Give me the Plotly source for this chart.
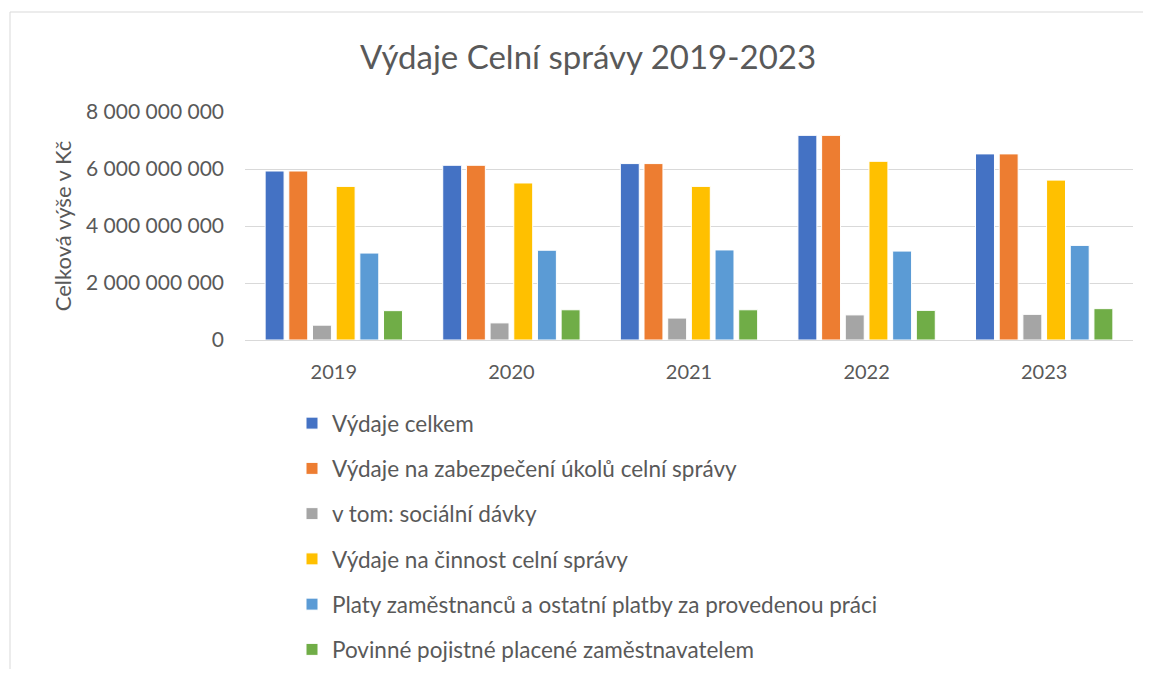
import plotly.graph_objects as go

years = ["2019", "2020", "2021", "2022", "2023"]

vydaje_celkem = [5.93e9, 6.13e9, 6.19e9, 7.18e9, 6.53e9]
vydaje_zabezpeceni = [5.93e9, 6.13e9, 6.19e9, 7.18e9, 6.53e9]
socialni_davky = [0.52e9, 0.60e9, 0.77e9, 0.88e9, 0.90e9]
vydaje_cinnost = [5.39e9, 5.51e9, 5.39e9, 6.27e9, 5.61e9]
platy = [3.05e9, 3.15e9, 3.16e9, 3.12e9, 3.32e9]
pojistne = [1.03e9, 1.06e9, 1.06e9, 1.04e9, 1.10e9]

series = [
    ("Výdaje celkem", vydaje_celkem, "#4472C4"),
    ("Výdaje na zabezpečení úkolů celní správy", vydaje_zabezpeceni, "#ED7D31"),
    ("v tom: sociální dávky", socialni_davky, "#A5A5A5"),
    ("Výdaje na činnost celní správy", vydaje_cinnost, "#FFC000"),
    ("Platy zaměstnanců a ostatní platby za provedenou práci", platy, "#5B9BD5"),
    ("Povinné pojistné placené zaměstnavatelem", pojistne, "#70AD47"),
]

font_family = "Lato, 'Open Sans', sans-serif"

fig = go.Figure()
for i, (name, vals, color) in enumerate(series):
    fig.add_trace(go.Bar(
        x=years, y=vals, name=name,
        marker=dict(color=color, line=dict(color="white", width=1)),
        legendgroup=f"g{i}",
    ))

# page body has an 8px margin; figure coordinates = screen - 8
W, H = 1143, 661
L, T = 237, 104
pw, ph = 888, 228
R = W - L - pw
B = H - T - ph
bottom_y = T + ph  # figure y of x-axis

fig.update_layout(
    width=W, height=H,
    margin=dict(l=L, r=R, t=T, b=B, autoexpand=False),
    paper_bgcolor="white", plot_bgcolor="white",
    separators=", ",
    font=dict(family=font_family, color="#595959", size=20),
    title=dict(text="Výdaje Celní správy 2019-2023", x=580 / W, xanchor="center",
               y=1 - 49 / H, yanchor="middle",
               font=dict(size=33, color="#595959", family=font_family)),
    barmode="group", bargap=0.2, bargroupgap=0.2,
    showlegend=True,
    legend=dict(orientation="v", x=(284 - L) / pw, xanchor="left",
                y=(bottom_y - 394) / ph, yanchor="top",
                font=dict(size=22.5, color="#595959"),
                tracegroupgap=13, itemwidth=30,
                bgcolor="rgba(0,0,0,0)"),
    xaxis=dict(showline=True, linecolor="#D9D9D9", linewidth=1,
               ticks="", ticklabelstandoff=14,
               tickfont=dict(size=20, color="#595959")),
    yaxis=dict(range=[0, 8e9], dtick=2e9, tickformat=",.0f",
               showgrid=True, gridcolor="#D9D9D9", gridwidth=1,
               zeroline=False, showline=False, ticks="",
               ticklabelstandoff=20,
               tickfont=dict(size=21, color="#595959"),
               title=dict(text="Celková výše v Kč", standoff=8,
                          font=dict(size=22, color="#595959"))),
)

# chart-area border (top and left edges visible)
bx = (2 - L) / pw
by_top = (bottom_y - 4) / ph
by_bot = (bottom_y - H - 20) / ph
fig.add_shape(type="line", xref="paper", yref="paper",
              x0=bx, x1=(W + 20 - L) / pw, y0=by_top, y1=by_top,
              line=dict(color="#D9D9D9", width=1))
fig.add_shape(type="line", xref="paper", yref="paper",
              x0=bx, x1=bx, y0=by_top, y1=by_bot,
              line=dict(color="#D9D9D9", width=1))

fig.write_html("out.html")
